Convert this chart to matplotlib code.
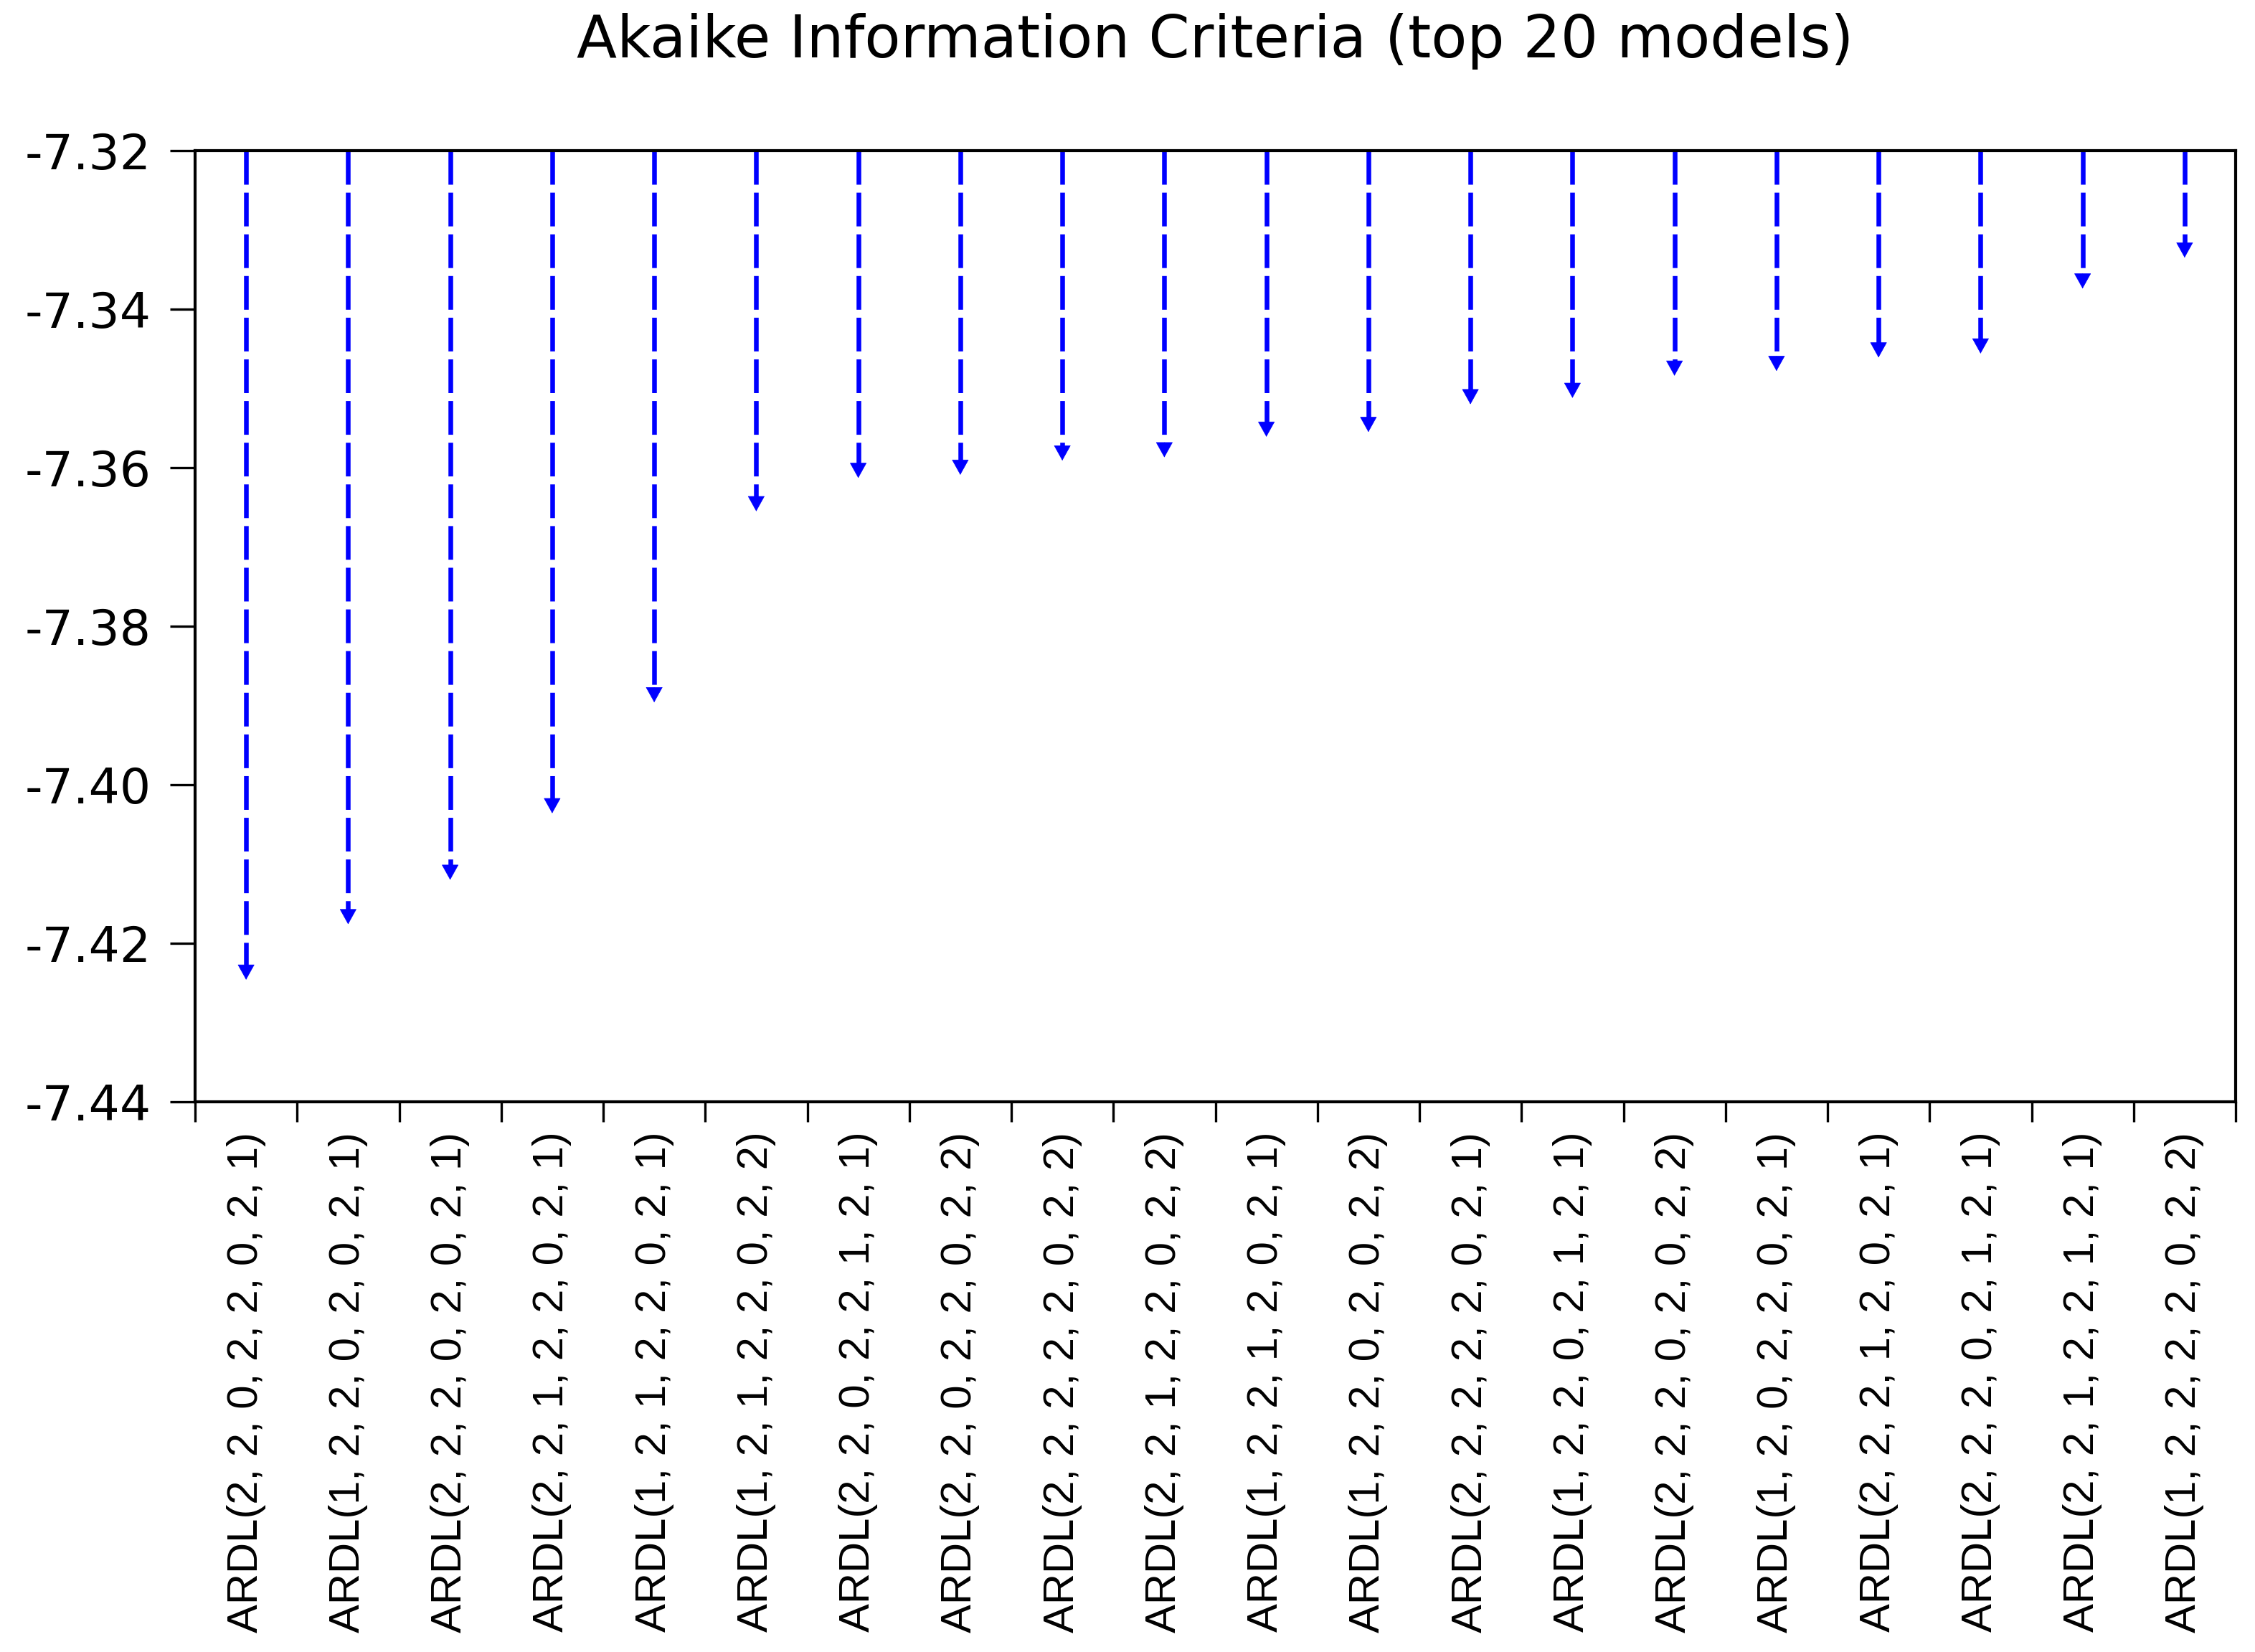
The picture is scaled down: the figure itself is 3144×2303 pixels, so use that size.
import numpy as np
import matplotlib
matplotlib.use("Agg")
import matplotlib.pyplot as plt
from matplotlib.ticker import FixedLocator, FormatStrFormatter

# model labels and their AIC values
models = [
    "ARDL(2, 2, 0, 2, 2, 0, 2, 1)",
    "ARDL(1, 2, 2, 0, 2, 0, 2, 1)",
    "ARDL(2, 2, 2, 0, 2, 0, 2, 1)",
    "ARDL(2, 2, 1, 2, 2, 0, 2, 1)",
    "ARDL(1, 2, 1, 2, 2, 0, 2, 1)",
    "ARDL(1, 2, 1, 2, 2, 0, 2, 2)",
    "ARDL(2, 2, 0, 2, 2, 1, 2, 1)",
    "ARDL(2, 2, 0, 2, 2, 0, 2, 2)",
    "ARDL(2, 2, 2, 2, 2, 0, 2, 2)",
    "ARDL(2, 2, 1, 2, 2, 0, 2, 2)",
    "ARDL(1, 2, 2, 1, 2, 0, 2, 1)",
    "ARDL(1, 2, 2, 0, 2, 0, 2, 2)",
    "ARDL(2, 2, 2, 2, 2, 0, 2, 1)",
    "ARDL(1, 2, 2, 0, 2, 1, 2, 1)",
    "ARDL(2, 2, 2, 0, 2, 0, 2, 2)",
    "ARDL(1, 2, 0, 2, 2, 0, 2, 1)",
    "ARDL(2, 2, 2, 1, 2, 0, 2, 1)",
    "ARDL(2, 2, 2, 0, 2, 1, 2, 1)",
    "ARDL(2, 2, 1, 2, 2, 1, 2, 1)",
    "ARDL(1, 2, 2, 2, 2, 0, 2, 2)",
]
aic = [-7.4246, -7.4176, -7.4120, -7.4036, -7.3896,
       -7.3655, -7.3613, -7.3609, -7.3591, -7.3587,
       -7.3561, -7.3555, -7.3520, -7.3512, -7.3484,
       -7.3478, -7.3461, -7.3456, -7.3374, -7.3335]
yticks = [-7.44, -7.42, -7.40, -7.38, -7.36, -7.34, -7.32]

W, H = 3144, 2303
fig = plt.figure(figsize=(W / 100, H / 100), dpi=100)
ax = fig.add_axes([272 / W, 1 - 1536 / H, (3117 - 272) / W, (1536 - 210) / H])

n = len(models)
x = np.arange(n)
ymin, ymax = yticks[0], yticks[-1]
ax.set_xlim(-0.5, n - 0.5)
ax.set_ylim(ymin, ymax)

blue = "#0000ff"
lw = 4.7
head_px = 20  # arrow head length in pixels
inv = ax.transData.inverted()
for xi, v in zip(x, aic):
    # stem ends where the head starts
    px, py = ax.transData.transform((xi, v))
    y_base = inv.transform((px, py + head_px))[1]
    ax.plot([xi, xi], [ymax, y_base], color=blue, lw=lw,
            dashes=(7.2, 1.7), solid_capstyle="butt", dash_capstyle="butt",
            clip_on=False)
    # solid arrow head
    ax.annotate("", xy=(xi, v), xytext=(0, head_px * 0.72 + 0.5),
                textcoords="offset points",
                arrowprops=dict(arrowstyle="-|>,head_length=0.72,head_width=0.4",
                                mutation_scale=20, color=blue, lw=0.5,
                                shrinkA=0, shrinkB=0))

# ticks: major x ticks on category boundaries, labels on centres
ax.xaxis.set_major_locator(FixedLocator(np.arange(n + 1) - 0.5))
ax.xaxis.set_major_formatter(plt.NullFormatter())
ax.xaxis.set_minor_locator(FixedLocator(x))
ax.set_xticklabels(models, minor=True, rotation=90, fontsize=43,
                   family="Liberation Sans", va="top")
ax.tick_params(axis="x", which="minor", length=0, pad=30)
ax.tick_params(axis="x", which="major", length=20, width=2.4, direction="out")

ax.set_yticks(yticks)
ax.yaxis.set_major_formatter(FormatStrFormatter("%.2f"))
ax.tick_params(axis="y", length=25, width=2.4, direction="out", pad=19)
for lab in ax.get_yticklabels():
    lab.set_fontsize(49)
    lab.set_family("DejaVu Sans")

for s in ax.spines.values():
    s.set_linewidth(3)
    s.set_zorder(3)

fig.text((272 + 3117) / 2 / W, 1 - 80 / H, "Akaike Information Criteria (top 20 models)",
         ha="center", va="baseline", fontsize=59, family="DejaVu Sans")

fig.savefig("out.png", dpi=100, facecolor="white")
